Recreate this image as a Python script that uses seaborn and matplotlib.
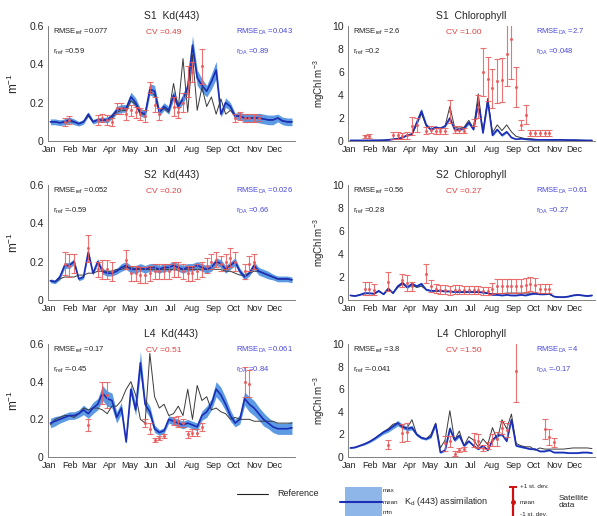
import numpy as np
import matplotlib
matplotlib.use("Agg")
import matplotlib.pyplot as plt
import seaborn as sns
from matplotlib.patches import Rectangle

# ---------------- data (weekly, week index 0..51) ----------------
weeks = list(range(52))
month_start_days = [1, 32, 60, 91, 121, 152, 182, 213, 244, 274, 305, 335]
month_labels = ["Jan", "Feb", "Mar", "Apr", "May", "Jun", "Jul", "Aug", "Sep", "Oct", "Nov", "Dec"]

# S1 Kd(443)
s1_kd_mean = [0.10,0.10,0.095,0.10,0.11,0.10,0.09,0.10,0.14,0.10,
              0.11,0.11,0.11,0.13,0.16,0.17,0.17,0.23,0.20,0.15,
              0.14,0.27,0.26,0.15,0.18,0.16,0.24,0.18,0.22,0.28,
              0.50,0.33,0.29,0.26,0.31,0.37,0.14,0.20,0.18,0.13,
              0.13,0.12,0.12,0.12,0.12,0.115,0.11,0.11,0.12,0.105,
              0.10,0.10]
s1_kd_spread = [0.015,0.015,0.015,0.015,0.015,0.015,0.012,0.012,0.012,0.012,
                0.012,0.012,0.015,0.015,0.02,0.02,0.02,0.025,0.025,0.02,
                0.02,0.03,0.03,0.02,0.02,0.02,0.025,0.02,0.025,0.03,
                0.05,0.04,0.035,0.03,0.04,0.045,0.015,0.025,0.02,0.015,
                0.02,0.02,0.02,0.02,0.025,0.025,0.025,0.025,0.02,0.02,
                0.02,0.02]
s1_kd_ref = [0.10,0.10,0.095,0.10,0.10,0.10,0.09,0.10,0.13,0.10,
             0.11,0.11,0.11,0.12,0.15,0.16,0.16,0.21,0.19,0.14,
             0.14,0.26,0.24,0.15,0.17,0.15,0.30,0.17,0.43,0.15,
             0.45,0.16,0.28,0.18,0.23,0.14,0.22,0.14,0.16,0.13,
             0.13,0.12,0.12,0.12,0.12,0.115,0.11,0.11,0.12,0.105,
             0.10,0.10]
s1_kd_sat_week = [3,4,10,11,12,13,14,15,16,17,18,19,20,21,22,23,26,27,28,29,30,32,39,40,41,42,43,44]
s1_kd_sat_mean = [0.10,0.11,0.11,0.12,0.11,0.10,0.17,0.17,0.14,0.16,0.15,0.14,0.13,0.28,0.19,0.14,
                  0.18,0.15,0.20,0.31,0.36,0.39,0.12,0.13,0.12,0.12,0.12,0.12]
s1_kd_sat_sd = [0.02,0.02,0.025,0.02,0.025,0.02,0.03,0.03,0.03,0.03,0.03,0.03,0.03,0.03,0.04,0.03,
                0.05,0.03,0.05,0.08,0.05,0.09,0.02,0.02,0.02,0.02,0.02,0.015]

# S1 Chlorophyll
s1_chl_mean = [0.05,0.05,0.05,0.05,0.05,0.06,0.06,0.07,0.10,0.15,
               0.20,0.30,0.50,0.60,1.60,2.60,1.40,1.00,1.20,1.10,
               1.30,2.00,1.00,1.00,1.10,1.60,1.00,3.40,0.70,3.50,
               0.50,1.00,0.50,0.80,0.30,0.15,0.20,0.15,0.12,0.10,
               0.10,0.10,0.10,0.10,0.10,0.10,0.08,0.08,0.07,0.06,
               0.05,0.05]
s1_chl_spread = [0.02,0.02,0.02,0.02,0.02,0.02,0.02,0.02,0.02,0.03,
                 0.03,0.04,0.05,0.08,0.15,0.25,0.15,0.10,0.10,0.10,
                 0.10,0.15,0.10,0.10,0.10,0.15,0.10,0.30,0.10,0.30,
                 0.10,0.10,0.10,0.10,0.05,0.03,0.03,0.03,0.03,0.03,
                 0.03,0.03,0.03,0.03,0.03,0.03,0.02,0.02,0.02,0.02,
                 0.02,0.02]
s1_chl_ref = [0.05,0.05,0.05,0.05,0.05,0.06,0.06,0.07,0.10,0.15,
              0.20,0.30,0.50,0.60,1.40,2.40,1.30,1.00,1.10,1.10,
              1.30,3.00,1.20,1.10,1.20,1.80,1.10,4.10,0.80,3.70,
              0.70,1.40,0.90,1.40,0.80,0.40,0.30,0.20,0.20,0.15,
              0.12,0.12,0.10,0.10,0.10,0.10,0.08,0.08,0.07,0.06,
              0.05,0.05]
s1_chl_sat_week = [3,4,9,10,11,12,13,14,16,17,18,19,20,21,22,23,24,26,27,28,29,30,31,32,33,34,35,36,37,38,39,40,41,42]
s1_chl_sat_mean = [0.40,0.45,0.50,0.50,0.45,0.50,1.30,1.40,0.90,1.00,0.90,0.90,0.85,2.60,1.00,1.00,0.90,
                   1.60,3.00,6.00,5.40,4.60,5.20,5.30,7.60,8.90,4.70,1.40,2.30,0.70,0.70,0.70,0.70,0.70]
s1_chl_sat_sd = [0.15,0.15,0.30,0.30,0.25,0.30,0.80,0.60,0.30,0.30,0.25,0.25,0.25,1.00,0.30,0.30,0.20,
                 0.30,1.00,2.10,1.90,1.70,1.90,1.90,2.80,3.50,1.70,0.45,0.80,0.30,0.30,0.30,0.30,0.30]

# S2 Kd(443)
s2_kd_mean = [0.10,0.095,0.12,0.18,0.18,0.20,0.11,0.12,0.25,0.14,
              0.20,0.15,0.14,0.14,0.15,0.17,0.18,0.16,0.16,0.17,
              0.16,0.17,0.17,0.16,0.17,0.17,0.18,0.17,0.16,0.17,
              0.17,0.18,0.17,0.16,0.17,0.20,0.19,0.16,0.18,0.20,
              0.15,0.12,0.14,0.18,0.15,0.14,0.13,0.12,0.11,0.11,
              0.11,0.105]
s2_kd_spread = [0.01,0.01,0.015,0.015,0.015,0.015,0.01,0.01,0.015,0.01,
                0.015,0.015,0.015,0.015,0.015,0.02,0.02,0.02,0.02,0.02,
                0.02,0.02,0.02,0.02,0.02,0.02,0.02,0.02,0.02,0.02,
                0.02,0.02,0.02,0.02,0.02,0.02,0.02,0.02,0.02,0.02,
                0.015,0.015,0.015,0.02,0.02,0.02,0.02,0.015,0.015,0.015,
                0.015,0.015]
s2_kd_ref = [0.10,0.095,0.11,0.12,0.12,0.12,0.13,0.13,0.14,0.14,
             0.15,0.15,0.15,0.15,0.16,0.16,0.17,0.17,0.16,0.16,
             0.16,0.16,0.16,0.16,0.16,0.16,0.16,0.16,0.16,0.16,
             0.16,0.16,0.16,0.16,0.16,0.16,0.16,0.15,0.15,0.14,
             0.13,0.13,0.14,0.15,0.15,0.14,0.13,0.12,0.11,0.11,
             0.11,0.105]
s2_kd_sat_week = [3,4,5,8,10,11,12,13,16,17,18,19,20,21,22,23,24,25,26,27,28,29,30,31,32,33,34,35,36,37,38,39,41,42,43]
s2_kd_sat_mean = [0.19,0.18,0.19,0.27,0.16,0.16,0.16,0.15,
                  0.21,0.14,0.14,0.13,0.13,0.14,0.15,0.15,0.15,0.15,0.16,0.16,0.15,0.14,0.14,0.15,
                  0.16,0.18,0.20,0.21,0.19,0.20,0.22,0.20,0.15,0.19,0.20]
s2_kd_sat_sd = [0.06,0.06,0.05,0.07,0.04,0.05,0.05,0.05,
                0.05,0.04,0.04,0.04,0.04,0.04,0.04,0.04,0.04,0.04,0.04,0.04,0.04,0.04,0.04,0.04,
                0.04,0.04,0.04,0.04,0.04,0.04,0.05,0.05,0.04,0.04,0.04]

# S2 Chlorophyll
s2_chl_mean = [0.40,0.35,0.45,0.60,0.60,0.55,0.80,0.50,1.00,0.60,
               1.20,1.50,1.10,1.40,1.20,1.40,0.90,0.80,0.80,0.80,
               0.75,0.75,0.70,0.70,0.70,0.70,0.70,0.70,0.65,0.60,
               0.45,0.45,0.40,0.45,0.40,0.40,0.45,0.40,0.50,0.55,
               0.50,0.50,0.55,0.30,0.25,0.25,0.30,0.40,0.45,0.40,
               0.35,0.40]
s2_chl_spread = [0.04,0.04,0.05,0.05,0.05,0.05,0.06,0.05,0.08,0.06,
                 0.10,0.12,0.10,0.12,0.12,0.15,0.08,0.06,0.06,0.06,
                 0.05,0.05,0.05,0.05,0.05,0.05,0.05,0.05,0.05,0.05,
                 0.05,0.05,0.05,0.05,0.05,0.05,0.05,0.05,0.05,0.05,
                 0.05,0.05,0.05,0.04,0.04,0.04,0.04,0.05,0.05,0.05,
                 0.05,0.05]
s2_chl_ref = [0.40,0.35,0.45,0.55,0.55,0.55,0.75,0.50,0.90,0.60,
              1.10,1.40,1.10,1.30,1.10,1.20,0.90,0.80,0.80,0.80,
              0.75,0.75,0.70,0.70,0.70,0.70,0.70,0.70,0.65,0.60,
              0.55,0.55,0.55,0.60,0.60,0.60,0.60,0.60,0.60,0.60,
              0.55,0.55,0.50,0.30,0.25,0.25,0.30,0.40,0.45,0.40,
              0.35,0.40]
s2_chl_sat_week = [3,4,5,8,11,12,13,16,17,18,19,20,21,22,23,24,25,26,27,28,29,30,31,32,33,34,35,36,37,38,39,40,41,42]
s2_chl_sat_mean = [1.00,1.00,0.90,1.60,1.70,1.50,1.20,
                   2.30,1.20,1.00,0.90,0.90,0.80,0.90,0.90,0.85,0.90,0.90,0.85,0.80,0.80,
                   1.00,1.20,1.20,1.20,1.20,1.20,1.20,1.30,1.40,1.30,1.00,1.00,1.00]
s2_chl_sat_sd = [0.60,0.60,0.50,0.80,0.60,0.70,0.40,
                 0.80,0.50,0.40,0.40,0.40,0.40,0.40,0.40,0.35,0.35,0.35,0.35,0.35,0.35,
                 0.50,0.60,0.60,0.60,0.60,0.60,0.60,0.60,0.60,0.60,0.40,0.40,0.35]

# L4 Kd(443)
l4_kd_mean = [0.18,0.19,0.20,0.21,0.22,0.22,0.23,0.25,0.23,0.26,
              0.28,0.34,0.31,0.30,0.21,0.26,0.08,0.36,0.25,0.50,
              0.28,0.24,0.15,0.13,0.14,0.20,0.19,0.18,0.17,0.18,
              0.17,0.16,0.22,0.24,0.28,0.36,0.33,0.28,0.22,0.18,
              0.20,0.31,0.28,0.26,0.23,0.20,0.18,0.16,0.15,0.15,
              0.15,0.155]
l4_kd_spread = [0.025,0.025,0.02,0.02,0.02,0.02,0.02,0.025,0.025,0.03,
                0.03,0.04,0.04,0.04,0.03,0.03,0.01,0.03,0.03,0.06,
                0.03,0.03,0.02,0.015,0.015,0.02,0.02,0.02,0.02,0.02,
                0.02,0.02,0.025,0.03,0.03,0.04,0.04,0.035,0.03,0.02,
                0.025,0.035,0.04,0.04,0.035,0.035,0.03,0.03,0.03,0.03,
                0.03,0.035]
l4_kd_ref = [0.17,0.20,0.21,0.22,0.22,0.21,0.23,0.26,0.25,0.26,
             0.26,0.25,0.23,0.27,0.27,0.30,0.36,0.40,0.33,0.20,
             0.18,0.55,0.32,0.26,0.28,0.22,0.23,0.27,0.22,0.36,
             0.20,0.38,0.30,0.32,0.25,0.26,0.24,0.23,0.20,0.21,
             0.20,0.20,0.20,0.19,0.19,0.19,0.19,0.19,0.18,0.18,
             0.18,0.18]
l4_kd_sat_week = [8,11,12,20,21,22,23,24,26,27,28,29,30,31,32,41,42]
l4_kd_sat_mean = [0.17,0.34,0.33,0.18,0.15,0.09,0.10,0.11,0.19,0.19,0.18,0.12,0.13,0.13,0.16,0.40,0.39]
l4_kd_sat_sd = [0.03,0.06,0.07,0.02,0.03,0.01,0.01,0.01,0.02,0.03,0.02,0.02,0.02,0.02,0.02,0.08,0.07]

# L4 Chlorophyll
l4_chl_mean = [0.80,0.85,1.00,1.15,1.35,1.60,1.90,2.20,2.40,2.70,
               3.00,2.70,2.50,2.60,2.00,1.70,1.60,1.80,2.90,0.40,
               0.60,2.50,1.50,1.90,1.00,1.40,1.00,0.70,1.00,0.60,
               1.50,1.90,2.00,1.40,3.30,1.00,0.90,0.80,0.70,0.70,
               0.50,0.50,0.60,0.40,0.40,0.40,0.35,0.35,0.35,0.40,
               0.40,0.35]
l4_chl_spread = [0.05,0.05,0.05,0.08,0.10,0.12,0.15,0.18,0.20,0.22,
                 0.25,0.20,0.18,0.20,0.15,0.12,0.10,0.12,0.15,0.08,
                 0.10,0.25,0.15,0.15,0.10,0.10,0.08,0.08,0.08,0.08,
                 0.10,0.10,0.10,0.10,0.15,0.08,0.08,0.06,0.06,0.06,
                 0.05,0.05,0.05,0.05,0.05,0.05,0.05,0.05,0.05,0.05,
                 0.05,0.05]
l4_chl_ref = [0.80,0.85,1.00,1.15,1.35,1.60,1.90,2.20,2.50,2.90,
              3.00,2.60,2.60,3.30,2.00,1.70,1.60,2.00,3.00,0.80,
              1.50,4.10,1.50,2.30,1.00,1.80,1.50,0.90,1.60,1.10,
              2.60,1.50,3.30,2.50,3.80,1.20,1.00,0.90,0.90,0.60,
              0.80,0.70,0.70,0.70,0.70,0.70,0.75,0.80,0.80,0.80,
              0.80,0.75]
l4_chl_sat_week = [8,11,12,20,21,22,23,24,26,27,28,29,30,31,32,33,35,41,42,43]
l4_chl_sat_mean = [1.10,2.10,2.20,1.20,1.40,0.30,0.60,0.70,1.50,1.40,0.80,1.00,1.50,1.60,2.60,2.40,7.60,2.50,1.80,1.30]
l4_chl_sat_sd = [0.40,0.80,0.80,0.70,0.50,0.20,0.20,0.20,0.60,0.60,0.30,0.30,0.50,0.60,0.60,0.60,2.70,0.90,0.70,0.40]

titles = ["S1  Kd(443)", "S1  Chlorophyll", "S2  Kd(443)", "S2  Chlorophyll", "L4  Kd(443)", "L4  Chlorophyll"]
rmse_ref = ["0.077", "2.6", "0.052", "0.56", "0.17", "3.8"]
r_ref = ["0.59", "0.2", "-0.59", "0.28", "-0.45", "-0.041"]
cv = ["0.49", "1.00", "0.20", "0.27", "0.51", "1.50"]
rmse_da = ["0.043", "2.7", "0.026", "0.61", "0.061", "4"]
r_da = ["0.89", "0.048", "0.66", "0.27", "0.84", "-0.17"]

panels = [
    (s1_kd_mean, s1_kd_spread, s1_kd_ref, s1_kd_sat_week, s1_kd_sat_mean, s1_kd_sat_sd),
    (s1_chl_mean, s1_chl_spread, s1_chl_ref, s1_chl_sat_week, s1_chl_sat_mean, s1_chl_sat_sd),
    (s2_kd_mean, s2_kd_spread, s2_kd_ref, s2_kd_sat_week, s2_kd_sat_mean, s2_kd_sat_sd),
    (s2_chl_mean, s2_chl_spread, s2_chl_ref, s2_chl_sat_week, s2_chl_sat_mean, s2_chl_sat_sd),
    (l4_kd_mean, l4_kd_spread, l4_kd_ref, l4_kd_sat_week, l4_kd_sat_mean, l4_kd_sat_sd),
    (l4_chl_mean, l4_chl_spread, l4_chl_ref, l4_chl_sat_week, l4_chl_sat_mean, l4_chl_sat_sd),
]

# ---------------- style ----------------
sns.set_theme(style="white")
plt.rcParams["font.family"] = ["Liberation Sans", "DejaVu Sans"]
plt.rcParams["mathtext.default"] = "regular"

BAND = "#4a8fe0"
MEAN = "#1c2db5"
REF = "#3a3a3a"
SAT = "#e85a5a"
TXT_BLUE = "#4848d8"
TXT_RED = "#e04040"

W, H = 597, 516
fig = plt.figure(figsize=(W / 100, H / 100), dpi=100)

lefts = [48, 348]
rows = [(26, 141), (185, 300), (344, 457)]
axw = 247


def week_days(idx):
    return np.array(idx, dtype=float) * 7 + 3.5


for k, (mean, spread, ref, sw, sm, ssd) in enumerate(panels):
    r, c = divmod(k, 2)
    top, bot = rows[r]
    ax = fig.add_axes([lefts[c] / W, 1 - bot / H, axw / W, (bot - top) / H])
    days = week_days(weeks)
    mean = np.array(mean)
    spread = np.array(spread)
    ax.fill_between(days, mean - spread, mean + spread, color=BAND, alpha=0.9, lw=0, zorder=1)
    sns.lineplot(x=days, y=ref, ax=ax, color=REF, linewidth=0.7, zorder=2)
    sns.lineplot(x=days, y=mean, ax=ax, color=MEAN, linewidth=1.2, zorder=3)
    ax.errorbar(week_days(sw), sm, yerr=ssd, fmt=".", ms=2.5, color=SAT, ecolor=SAT,
                elinewidth=0.8, capsize=2.0, capthick=0.8, alpha=0.85, zorder=4)

    ax.set_xlim(0, 365)
    ax.set_xticks(month_start_days)
    ax.set_xticklabels(month_labels, fontsize=6.5)
    is_kd = (c == 0)
    if is_kd:
        ax.set_ylim(0, 0.6)
        ax.set_yticks([0, 0.2, 0.4, 0.6])
        ax.set_yticklabels(["0", "0.2", "0.4", "0.6"], fontsize=7.5)
        ax.set_ylabel("m$^{-1}$", fontsize=8.5, labelpad=6)
    else:
        ax.set_ylim(0, 10)
        ax.set_yticks([0, 2, 4, 6, 8, 10])
        ax.set_yticklabels(["0", "2", "4", "6", "8", "10"], fontsize=7.5)
        ax.set_ylabel("mgChl m$^{-3}$", fontsize=7, labelpad=4)
    for s in ["top", "right"]:
        ax.spines[s].set_visible(False)
    for s in ["left", "bottom"]:
        ax.spines[s].set_color("#808080")
        ax.spines[s].set_linewidth(0.7)
    ax.tick_params(axis="both", direction="out", length=2, width=0.6, color="#808080", pad=1)
    ax.set_title(titles[k], fontsize=7.5, pad=5)

    ax.text(0.02, 0.99, "RMSE$_{ref}$ =" + rmse_ref[k], transform=ax.transAxes,
            fontsize=5.5, color="#222222", va="top", ha="left")
    ax.text(0.02, 0.82, "r$_{ref}$ =" + r_ref[k], transform=ax.transAxes,
            fontsize=5.5, color="#222222", va="top", ha="left")
    ax.text(0.47, 0.97, "CV =" + cv[k], transform=ax.transAxes,
            fontsize=6, color=TXT_RED, va="top", ha="center")
    ax.text(0.76, 0.99, "RMSE$_{DA}$ =" + rmse_da[k], transform=ax.transAxes,
            fontsize=5.5, color=TXT_BLUE, va="top", ha="left")
    ax.text(0.76, 0.82, "r$_{DA}$ =" + r_da[k], transform=ax.transAxes,
            fontsize=5.5, color=TXT_BLUE, va="top", ha="left")

# ---------------- legend (pixel coordinates, y from top) ----------------
lg = fig.add_axes([0, 0, 1, 46 / H])
lg.set_xlim(0, W)
lg.set_ylim(516, 470)
lg.axis("off")
lg.plot([237, 268], [494, 494], color="#222222", lw=0.8)
lg.text(277, 494, "Reference", fontsize=6.5, va="center", ha="left")
lg.add_patch(Rectangle((345, 487), 37, 32, color="#8fb6e8", lw=0, clip_on=False))
lg.plot([340, 382], [502, 502], color=MEAN, lw=1.5)
lg.text(383, 490, "max", fontsize=4.5, va="center", ha="left")
lg.text(383, 502, "mean", fontsize=4.5, va="center", ha="left")
lg.text(383, 513, "min", fontsize=4.5, va="center", ha="left")
lg.text(404, 502, "K$_d$ (443) assimilation", fontsize=6.5, va="center", ha="left")
lg.errorbar([513], [502], yerr=[[15], [15]], fmt="o", ms=2.5, color="#d01010",
            elinewidth=1.6, capsize=3, capthick=1.4, clip_on=False)
lg.text(520, 487, "+1 st. dev.", fontsize=4.5, va="center", ha="left")
lg.text(520, 502, "mean", fontsize=4.5, va="center", ha="left")
lg.text(520, 514, "-1 st. dev.", fontsize=4.5, va="center", ha="left")
lg.text(559, 502, "Satellite\ndata", fontsize=6, va="center", ha="left", linespacing=1.1)

fig.savefig("out.png", dpi=100)
